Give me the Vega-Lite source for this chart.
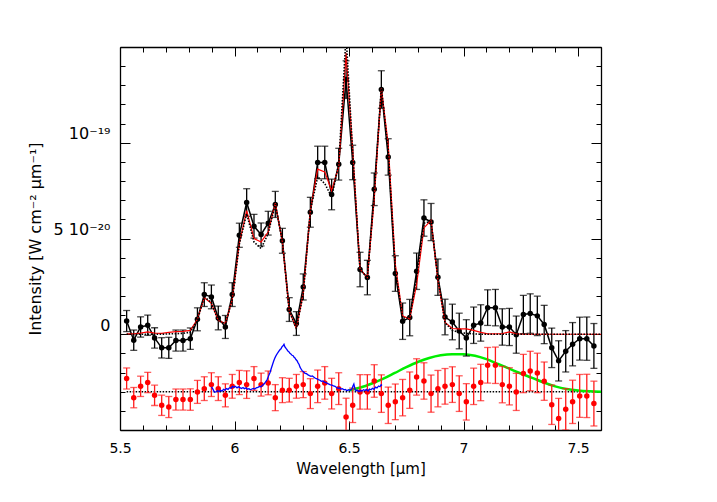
{
  "$schema": "https://vega.github.io/schema/vega-lite/v6.json",
  "width": 481,
  "height": 383,
  "autosize": {"type": "none"},
  "padding": {"left": 120, "top": 47, "right": 116, "bottom": 72},
  "background": "white",
  "config": {
    "view": {"stroke": null},
    "axis": {
      "domainColor": "black", "domainWidth": 1.3, "tickColor": "black", "tickWidth": 1,
      "labelFont": "DejaVu Sans", "labelFontSize": 14, "labelColor": "black",
      "titleFont": "DejaVu Sans", "titleFontSize": 15, "titleFontWeight": "normal", "titleColor": "black",
      "grid": false, "labelOverlap": false, "labelFlush": false
    }
  },
  "datasets": {
    "obs": [
      {"w":5.529,"v":0.69,"e":0.55,"r":-2.31},
      {"w":5.560,"v":-0.31,"e":0.53,"r":-3.31},
      {"w":5.590,"v":0.38,"e":0.53,"r":-2.72},
      {"w":5.621,"v":0.47,"e":0.53,"r":-2.52},
      {"w":5.651,"v":-0.19,"e":0.53,"r":-3.19},
      {"w":5.682,"v":-0.71,"e":0.53,"r":-3.71},
      {"w":5.713,"v":-0.71,"e":0.55,"r":-3.80},
      {"w":5.744,"v":-0.33,"e":0.55,"r":-3.41},
      {"w":5.775,"v":-0.33,"e":0.55,"r":-3.41},
      {"w":5.807,"v":-0.23,"e":0.56,"r":-3.41},
      {"w":5.838,"v":0.78,"e":0.6,"r":-3.01},
      {"w":5.868,"v":2.07,"e":0.62,"r":-2.84},
      {"w":5.899,"v":1.95,"e":0.62,"r":-2.63},
      {"w":5.929,"v":0.85,"e":0.62,"r":-2.84},
      {"w":5.960,"v":0.38,"e":0.6,"r":-3.19},
      {"w":5.990,"v":2.07,"e":0.62,"r":-2.72},
      {"w":6.021,"v":5.17,"e":0.63,"r":-2.52},
      {"w":6.053,"v":6.88,"e":0.72,"r":-2.63},
      {"w":6.085,"v":5.64,"e":0.62,"r":-2.31},
      {"w":6.116,"v":5.21,"e":0.6,"r":-2.63},
      {"w":6.147,"v":5.80,"e":0.62,"r":-2.54},
      {"w":6.178,"v":6.78,"e":0.68,"r":-3.31},
      {"w":6.209,"v":4.88,"e":0.65,"r":-2.92},
      {"w":6.239,"v":1.29,"e":0.62,"r":-2.92},
      {"w":6.270,"v":0.56,"e":0.62,"r":-2.72},
      {"w":6.300,"v":2.47,"e":0.68,"r":-2.63},
      {"w":6.331,"v":6.37,"e":0.78,"r":-3.10},
      {"w":6.363,"v":8.97,"e":0.85,"r":-2.72},
      {"w":6.394,"v":8.97,"e":0.85,"r":-2.54},
      {"w":6.424,"v":7.30,"e":0.8,"r":-3.10},
      {"w":6.455,"v":8.88,"e":0.83,"r":-2.84},
      {"w":6.487,"v":13.3,"e":0.98,"r":-4.32},
      {"w":6.516,"v":8.97,"e":0.9,"r":-3.71},
      {"w":6.548,"v":3.38,"e":0.9,"r":-3.01},
      {"w":6.580,"v":2.96,"e":0.9,"r":-3.01},
      {"w":6.610,"v":7.57,"e":0.85,"r":-2.44},
      {"w":6.641,"v":12.78,"e":0.98,"r":-3.10},
      {"w":6.671,"v":9.26,"e":0.95,"r":-3.71},
      {"w":6.702,"v":3.17,"e":0.93,"r":-3.53},
      {"w":6.734,"v":0.68,"e":0.95,"r":-3.31},
      {"w":6.765,"v":0.87,"e":0.95,"r":-2.92},
      {"w":6.795,"v":3.29,"e":0.95,"r":-2.23},
      {"w":6.827,"v":6.07,"e":0.95,"r":-2.44},
      {"w":6.858,"v":5.86,"e":0.97,"r":-3.10},
      {"w":6.888,"v":2.98,"e":0.95,"r":-2.84},
      {"w":6.919,"v":0.90,"e":0.93,"r":-2.72},
      {"w":6.951,"v":0.64,"e":0.93,"r":-2.63},
      {"w":6.981,"v":0.17,"e":0.93,"r":-3.10},
      {"w":7.012,"v":-0.19,"e":0.95,"r":-3.53},
      {"w":7.044,"v":0.47,"e":0.95,"r":-2.72},
      {"w":7.075,"v":0.59,"e":0.95,"r":-2.52},
      {"w":7.105,"v":1.39,"e":0.93,"r":-1.62},
      {"w":7.139,"v":1.39,"e":0.95,"r":-1.62},
      {"w":7.169,"v":0.38,"e":0.95,"r":-2.63},
      {"w":7.200,"v":0.38,"e":0.97,"r":-2.72},
      {"w":7.230,"v":-0.02,"e":0.97,"r":-3.01},
      {"w":7.261,"v":1.03,"e":1.0,"r":-2.05},
      {"w":7.291,"v":1.08,"e":1.03,"r":-1.92},
      {"w":7.322,"v":0.96,"e":1.03,"r":-2.02},
      {"w":7.352,"v":0.51,"e":1.0,"r":-2.45},
      {"w":7.385,"v":-0.71,"e":1.03,"r":-3.68},
      {"w":7.415,"v":-1.39,"e":1.05,"r":-4.40},
      {"w":7.446,"v":-0.89,"e":1.08,"r":-3.92},
      {"w":7.476,"v":-0.52,"e":1.13,"r":-3.53},
      {"w":7.507,"v":-0.23,"e":1.12,"r":-3.22},
      {"w":7.538,"v":-0.23,"e":1.13,"r":-3.22},
      {"w":7.569,"v":-0.61,"e":1.17,"r":-3.62}
    ],
    "model": [
      {"w":5.529,"m":0.02,"d":0.0},{"w":5.560,"m":0.02,"d":0.0},{"w":5.590,"m":0.06,"d":0.0},
      {"w":5.621,"m":0.12,"d":0.0},{"w":5.651,"m":0.06,"d":0.0},{"w":5.682,"m":0.05,"d":0.0},
      {"w":5.713,"m":0.1,"d":0.02},{"w":5.744,"m":0.14,"d":0.03},{"w":5.775,"m":0.15,"d":0.05},
      {"w":5.807,"m":0.2,"d":0.1},{"w":5.838,"m":0.78,"d":0.75},{"w":5.868,"m":1.91,"d":1.95},
      {"w":5.899,"m":1.62,"d":1.65},{"w":5.929,"m":0.72,"d":0.7},{"w":5.960,"m":0.57,"d":0.55},
      {"w":5.990,"m":1.8,"d":1.8},{"w":6.021,"m":4.75,"d":4.7},{"w":6.053,"m":6.45,"d":6.3},
      {"w":6.085,"m":5.0,"d":4.82},{"w":6.116,"m":4.82,"d":4.48},{"w":6.147,"m":5.34,"d":5.26},
      {"w":6.178,"m":6.85,"d":6.8},{"w":6.209,"m":4.82,"d":4.85},{"w":6.239,"m":1.21,"d":1.2},
      {"w":6.270,"m":0.3,"d":0.3},{"w":6.300,"m":2.12,"d":2.1},{"w":6.331,"m":6.45,"d":6.45},
      {"w":6.363,"m":8.62,"d":8.22},{"w":6.394,"m":8.48,"d":7.87},{"w":6.424,"m":7.5,"d":7.17},
      {"w":6.455,"m":8.75,"d":8.88},{"w":6.487,"m":14.7,"d":15.6},{"w":6.516,"m":9.6,"d":9.5},
      {"w":6.548,"m":3.39,"d":3.38},{"w":6.580,"m":2.97,"d":2.96},{"w":6.610,"m":7.05,"d":7.3},
      {"w":6.641,"m":12.85,"d":12.9},{"w":6.671,"m":9.9,"d":9.6},{"w":6.702,"m":3.65,"d":3.4},
      {"w":6.734,"m":0.95,"d":0.85},{"w":6.765,"m":0.8,"d":0.85},{"w":6.795,"m":2.6,"d":3.0},
      {"w":6.827,"m":5.55,"d":5.8},{"w":6.858,"m":5.95,"d":5.9},{"w":6.888,"m":2.82,"d":2.9},
      {"w":6.919,"m":0.62,"d":0.6},{"w":6.951,"m":0.3,"d":0.2},{"w":6.981,"m":0.28,"d":0.1},
      {"w":7.012,"m":0.28,"d":0.05},{"w":7.044,"m":0.2,"d":0.02},{"w":7.075,"m":0.1,"d":0.0},
      {"w":7.105,"m":0.02,"d":0.0},{"w":7.139,"m":0.02,"d":0.0},{"w":7.169,"m":0.03,"d":0.0},
      {"w":7.200,"m":0.12,"d":0.0},{"w":7.230,"m":0.02,"d":0.0},{"w":7.261,"m":0.0,"d":0.0},
      {"w":7.6,"m":0.0,"d":0.0}
    ],
    "base": [{"w":5.529,"v":-3},{"w":7.6,"v":-3}],
    "blue": [
      {"w":5.900,"v":-2.75},{"w":5.906,"v":-2.88},{"w":5.912,"v":-3.02},{"w":5.919,"v":-3.01},
      {"w":5.926,"v":-2.94},{"w":5.932,"v":-3.0},{"w":5.939,"v":-2.93},{"w":5.945,"v":-2.97},
      {"w":5.952,"v":-2.88},{"w":5.958,"v":-2.92},{"w":5.965,"v":-2.84},{"w":5.972,"v":-2.88},
      {"w":5.978,"v":-2.79},{"w":5.985,"v":-2.82},{"w":5.991,"v":-2.72},{"w":5.998,"v":-2.77},
      {"w":6.004,"v":-2.72},{"w":6.011,"v":-2.8},{"w":6.017,"v":-2.74},{"w":6.024,"v":-2.79},
      {"w":6.030,"v":-2.83},{"w":6.037,"v":-2.78},{"w":6.043,"v":-2.84},{"w":6.050,"v":-2.8},
      {"w":6.056,"v":-2.87},{"w":6.063,"v":-2.84},{"w":6.069,"v":-2.9},{"w":6.076,"v":-2.86},
      {"w":6.082,"v":-2.83},{"w":6.089,"v":-2.86},{"w":6.095,"v":-2.8},{"w":6.102,"v":-2.77},
      {"w":6.109,"v":-2.72},{"w":6.116,"v":-2.74},{"w":6.122,"v":-2.66},{"w":6.129,"v":-2.6},
      {"w":6.135,"v":-2.5},{"w":6.142,"v":-2.38},{"w":6.148,"v":-2.2},{"w":6.155,"v":-2.0},
      {"w":6.160,"v":-1.8},{"w":6.166,"v":-1.58},{"w":6.171,"v":-1.4},{"w":6.177,"v":-1.22},
      {"w":6.182,"v":-1.1},{"w":6.188,"v":-0.98},{"w":6.193,"v":-0.9},{"w":6.199,"v":-0.8},
      {"w":6.203,"v":-0.76},{"w":6.207,"v":-0.66},{"w":6.212,"v":-0.6},{"w":6.216,"v":-0.52},
      {"w":6.220,"v":-0.66},{"w":6.225,"v":-0.74},{"w":6.229,"v":-0.8},{"w":6.233,"v":-0.88},
      {"w":6.238,"v":-0.92},{"w":6.242,"v":-1.0},{"w":6.247,"v":-1.04},{"w":6.251,"v":-1.1},
      {"w":6.256,"v":-1.12},{"w":6.260,"v":-1.2},{"w":6.264,"v":-1.24},{"w":6.268,"v":-1.32},
      {"w":6.273,"v":-1.38},{"w":6.277,"v":-1.48},{"w":6.282,"v":-1.58},{"w":6.286,"v":-1.72},
      {"w":6.290,"v":-1.8},{"w":6.295,"v":-1.9},{"w":6.301,"v":-1.96},{"w":6.308,"v":-2.04},
      {"w":6.314,"v":-2.06},{"w":6.321,"v":-2.12},{"w":6.327,"v":-2.16},{"w":6.334,"v":-2.2},
      {"w":6.340,"v":-2.18},{"w":6.347,"v":-2.24},{"w":6.353,"v":-2.3},{"w":6.360,"v":-2.33},
      {"w":6.366,"v":-2.37},{"w":6.373,"v":-2.4},{"w":6.379,"v":-2.46},{"w":6.386,"v":-2.44},
      {"w":6.392,"v":-2.5},{"w":6.399,"v":-2.53},{"w":6.405,"v":-2.57},{"w":6.412,"v":-2.6},
      {"w":6.419,"v":-2.64},{"w":6.426,"v":-2.66},{"w":6.432,"v":-2.7},{"w":6.439,"v":-2.72},
      {"w":6.445,"v":-2.78},{"w":6.452,"v":-2.82},{"w":6.458,"v":-2.8},{"w":6.465,"v":-2.86},
      {"w":6.471,"v":-2.84},{"w":6.478,"v":-2.9},{"w":6.484,"v":-2.88},{"w":6.491,"v":-2.95},
      {"w":6.497,"v":-2.9},{"w":6.504,"v":-2.93},{"w":6.509,"v":-2.88},{"w":6.513,"v":-2.84},
      {"w":6.517,"v":-2.7},{"w":6.521,"v":-2.6},{"w":6.525,"v":-2.82},{"w":6.530,"v":-2.96},
      {"w":6.536,"v":-2.92},{"w":6.543,"v":-3.0},{"w":6.549,"v":-2.94},{"w":6.556,"v":-2.97},
      {"w":6.563,"v":-2.9},{"w":6.570,"v":-2.94},{"w":6.576,"v":-2.88},{"w":6.583,"v":-2.97},
      {"w":6.589,"v":-2.86},{"w":6.596,"v":-2.9},{"w":6.602,"v":-2.82},{"w":6.609,"v":-2.88},
      {"w":6.615,"v":-2.76},{"w":6.622,"v":-2.8},{"w":6.629,"v":-2.7},{"w":6.635,"v":-2.74},
      {"w":6.640,"v":-2.64},{"w":6.644,"v":-2.68}
    ],
    "green": [
      {"w":6.50,"v":-2.92},{"w":6.55,"v":-2.78},{"w":6.60,"v":-2.57},{"w":6.65,"v":-2.32},
      {"w":6.70,"v":-2.02},{"w":6.75,"v":-1.72},{"w":6.80,"v":-1.45},{"w":6.85,"v":-1.24},
      {"w":6.90,"v":-1.1},{"w":6.95,"v":-1.04},{"w":7.00,"v":-1.04},{"w":7.05,"v":-1.12},
      {"w":7.10,"v":-1.3},{"w":7.15,"v":-1.55},{"w":7.20,"v":-1.8},{"w":7.25,"v":-2.05},
      {"w":7.30,"v":-2.28},{"w":7.35,"v":-2.52},{"w":7.40,"v":-2.72},{"w":7.45,"v":-2.86},
      {"w":7.50,"v":-2.94},{"w":7.55,"v":-2.98},{"w":7.60,"v":-3.0}
    ]
  },
  "layer": [
    {
      "data": {"name": "base"},
      "mark": {"type": "line", "color": "black", "strokeWidth": 1.6, "strokeDash": [1.5, 1.5], "clip": true},
      "encoding": {
        "x": {"field": "w", "type": "quantitative", "scale": {"domain": [5.5, 7.6], "nice": false, "zero": false},
          "axis": {"orient": "bottom", "title": "Wavelength [μm]",
            "values": [5.5,5.6,5.7,5.8,5.9,6.0,6.1,6.2,6.3,6.4,6.5,6.6,6.7,6.8,6.9,7.0,7.1,7.2,7.3,7.4,7.5,7.6],
            "tickSize": {"condition": {"test": "abs(datum.value*2-round(datum.value*2))<0.01", "value": -9}, "value": -5},
            "labelExpr": "abs(datum.value*2-round(datum.value*2))<0.01 ? format(datum.value,'~g') : ''",
            "labelPadding": 20, "titlePadding": 2}},
        "y": {"field": "v", "type": "quantitative", "scale": {"domain": [-5, 15], "nice": false, "zero": false},
          "axis": {"orient": "left", "title": "Intensity [W cm⁻² μm⁻¹]", "titleFontSize": 16,
            "values": [-5,-4,-3,-2,-1,0,1,2,3,4,5,6,7,8,9,10,11,12,13,14,15],
            "tickSize": {"condition": {"test": "datum.value % 5 == 0", "value": -10}, "value": -5},
            "labelExpr": "datum.value == 0 ? '0' : datum.value == 5 ? '5 10⁻²⁰' : datum.value == 10 ? '10⁻¹⁹' : ''",
            "labelFontSize": 16,
            "labelPadding": 20, "labelBaseline": "alphabetic", "labelOffset": -4, "titlePadding": 10}}
      }
    },
    {
      "data": {"name": "green"},
      "mark": {"type": "line", "color": "#00ee00", "strokeWidth": 2.5, "interpolate": "monotone", "clip": true},
      "encoding": {
        "x": {"field": "w", "type": "quantitative", "scale": {"domain": [5.5, 7.6], "nice": false, "zero": false},
          "axis": {"orient": "top", "title": null, "labels": false,
            "values": [5.5,5.6,5.7,5.8,5.9,6.0,6.1,6.2,6.3,6.4,6.5,6.6,6.7,6.8,6.9,7.0,7.1,7.2,7.3,7.4,7.5,7.6],
            "tickSize": {"condition": {"test": "abs(datum.value*2-round(datum.value*2))<0.01", "value": -9}, "value": -5}}},
        "y": {"field": "v", "type": "quantitative", "scale": {"domain": [-5, 15], "nice": false, "zero": false},
          "axis": {"orient": "right", "title": null, "labels": false,
            "values": [-5,-4,-3,-2,-1,0,1,2,3,4,5,6,7,8,9,10,11,12,13,14,15],
            "tickSize": {"condition": {"test": "datum.value % 5 == 0", "value": -10}, "value": -5}}}
      }
    },
    {
      "data": {"name": "obs"},
      "mark": {"type": "errorbar", "ticks": true, "size": 7, "thickness": 1.3, "color": "#ff1a1a", "clip": true},
      "encoding": {
        "x": {"field": "w", "type": "quantitative", "axis": null},
        "y": {"field": "r", "type": "quantitative", "axis": null},
        "yError": {"field": "e"}
      }
    },
    {
      "data": {"name": "obs"},
      "mark": {"type": "point", "filled": true, "size": 30, "color": "#ff0000", "opacity": 1, "clip": true},
      "encoding": {
        "x": {"field": "w", "type": "quantitative", "axis": null},
        "y": {"field": "r", "type": "quantitative", "axis": null}
      }
    },
    {
      "data": {"name": "blue"},
      "mark": {"type": "line", "color": "#0000ff", "strokeWidth": 1.3, "clip": true},
      "encoding": {
        "x": {"field": "w", "type": "quantitative", "axis": null},
        "y": {"field": "v", "type": "quantitative", "axis": null}
      }
    },
    {
      "data": {"name": "obs"},
      "mark": {"type": "errorbar", "ticks": true, "size": 7, "thickness": 1.3, "color": "black", "clip": true},
      "encoding": {
        "x": {"field": "w", "type": "quantitative", "axis": null},
        "y": {"field": "v", "type": "quantitative", "axis": null},
        "yError": {"field": "e"}
      }
    },
    {
      "data": {"name": "obs"},
      "mark": {"type": "line", "color": "black", "strokeWidth": 1.5, "clip": true},
      "encoding": {
        "x": {"field": "w", "type": "quantitative", "axis": null},
        "y": {"field": "v", "type": "quantitative", "axis": null}
      }
    },
    {
      "data": {"name": "obs"},
      "mark": {"type": "point", "filled": true, "size": 30, "color": "black", "opacity": 1, "clip": true},
      "encoding": {
        "x": {"field": "w", "type": "quantitative", "axis": null},
        "y": {"field": "v", "type": "quantitative", "axis": null}
      }
    },
    {
      "data": {"name": "model"},
      "mark": {"type": "line", "color": "#ff0000", "strokeWidth": 1.2, "clip": true},
      "encoding": {
        "x": {"field": "w", "type": "quantitative", "axis": null},
        "y": {"field": "m", "type": "quantitative", "axis": null}
      }
    },
    {
      "data": {"name": "model"},
      "mark": {"type": "line", "color": "black", "strokeWidth": 1.6, "strokeDash": [1.5, 1.5], "clip": true},
      "encoding": {
        "x": {"field": "w", "type": "quantitative", "axis": null},
        "y": {"field": "d", "type": "quantitative", "axis": null}
      }
    }
  ],
  "resolve": {"axis": {"x": "independent", "y": "independent"}}
}
